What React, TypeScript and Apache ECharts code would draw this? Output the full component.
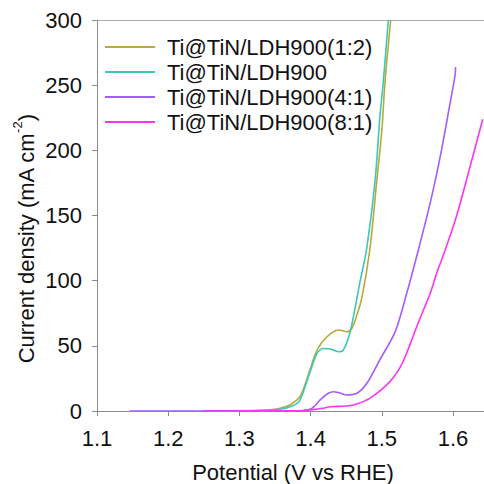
import React, { useEffect, useRef } from "react";
import * as echarts from "echarts";

const seriesNames = [
  "Ti@TiN/LDH900(1:2)",
  "Ti@TiN/LDH900",
  "Ti@TiN/LDH900(4:1)",
  "Ti@TiN/LDH900(8:1)",
];
const seriesColors = ["#b9a83a", "#3cc8b6", "#a25cff", "#ff33f5"];

const s12: [number, number][] = [
  [1.315, 0], [1.34, 0.8], [1.357, 2.1], [1.372, 5], [1.385, 11], [1.392, 20],
  [1.399, 31.5], [1.409, 46.8], [1.423, 57], [1.439, 62.2], [1.451, 60.8],
  [1.458, 63.5], [1.464, 72], [1.4718, 86.5], [1.4834, 124.8], [1.4928, 175.9],
  [1.5, 215], [1.5045, 252.7], [1.5125, 300],
];
const sBase: [number, number][] = [
  [1.247, 0], [1.33, 0.5], [1.357, 1.3], [1.375, 4], [1.385, 8.4], [1.397, 26.3],
  [1.409, 44.3], [1.418, 48], [1.428, 47.5], [1.439, 45.5], [1.446, 46.8],
  [1.455, 59.6], [1.4624, 78.8], [1.4694, 99.2], [1.4788, 124.8], [1.4904, 175.9],
  [1.4975, 227.1], [1.5021, 252.7], [1.5091, 300],
];
const s41: [number, number][] = [
  [1.146, 0], [1.38, 0], [1.399, 1.3], [1.406, 4], [1.413, 8.4], [1.425, 13.6],
  [1.432, 14.8], [1.44, 14], [1.451, 12.3], [1.465, 13.6], [1.479, 21.3],
  [1.497, 39.1], [1.5185, 60.5], [1.535, 90.3], [1.5513, 123.5], [1.57, 164.5],
  [1.5841, 201], [1.5958, 236], [1.603, 258], [1.6035, 264],
];
const s81: [number, number][] = [
  [1.25, 0], [1.39, 0.3], [1.399, 0.8], [1.418, 2.1], [1.427, 3.3], [1.451, 3.8],
  [1.465, 5.4], [1.483, 9.7], [1.502, 17.5], [1.516, 25.5], [1.53, 38],
  [1.549, 64.7], [1.568, 90.3], [1.577, 105.6], [1.589, 123.5], [1.6052, 150],
  [1.6239, 187.4], [1.6417, 223.8],
];
const seriesData = [s12, sBase, s41, s81];

const xTitle = "Potential (V vs RHE)";
const yTitle = "Current density (mA cm";

export default function App() {
  const ref = useRef<HTMLDivElement>(null);
  useEffect(() => {
    if (!ref.current) return;
    const chart = echarts.init(ref.current, undefined, { renderer: "svg" });
    const font = "'Liberation Sans', Arial, sans-serif";
    const axisGray = "#8c8c8c";
    chart.setOption({
      animation: false,
      grid: { left: 97, top: 20, right: 0, bottom: 73, containLabel: false },
      xAxis: [
        {
          type: "value",
          min: 1.1,
          max: 1.6435,
          interval: 0.1,
          axisLine: { show: true, lineStyle: { color: axisGray, width: 1 } },
          axisTick: { show: true, length: 5, lineStyle: { color: axisGray } },
          splitLine: { show: false },
          axisLabel: {
            color: "#111",
            fontSize: 22,
            fontFamily: font,
            margin: 16,
            formatter: (v: number) => v.toFixed(1),
            showMaxLabel: false,
          },
        },
        {
          type: "value",
          position: "top",
          min: 1.1,
          max: 1.6435,
          axisLine: { show: true, lineStyle: { color: "#aaaaaa", width: 1 } },
          axisTick: { show: false },
          axisLabel: { show: false },
          splitLine: { show: false },
        },
      ],
      yAxis: {
        type: "value",
        min: 0,
        max: 300,
        interval: 50,
        axisLine: { show: true, lineStyle: { color: axisGray, width: 1 } },
        axisTick: { show: true, length: 5, lineStyle: { color: axisGray } },
        splitLine: { show: false },
        axisLabel: { color: "#111", fontSize: 22, fontFamily: font, margin: 15 },
      },
      legend: {
        left: 100,
        top: 31,
        orient: "vertical",
        itemWidth: 50,
        itemHeight: 2,
        itemGap: 3,
        icon: "rect",
        data: seriesNames,
        textStyle: {
          fontSize: 22,
          fontFamily: font,
          color: "#111",
          padding: [0, 0, 0, 7],
          lineHeight: 22,
        },
      },
      series: seriesNames.map((name, i) => ({
        name,
        type: "line",
        data: seriesData[i],
        smooth: 0.3,
        showSymbol: false,
        symbol: "none",
        lineStyle: { color: seriesColors[i], width: 1.6 },
        itemStyle: { color: seriesColors[i] },
        clip: true,
        z: 2 + i,
      })),
      graphic: [
        {
          type: "text",
          x: 293,
          y: 472,
          style: {
            text: xTitle,
            fontSize: 22,
            fontFamily: font,
            fill: "#111",
            align: "center",
            verticalAlign: "middle",
          },
        },
        {
          type: "text",
          x: 24,
          y: 239,
          rotation: Math.PI / 2,
          style: {
            text: "{a|" + yTitle + "}{s|-2}{a|)}",
            fontFamily: font,
            fill: "#111",
            align: "center",
            verticalAlign: "middle",
            rich: {
              a: { fontSize: 22, fontFamily: font, fill: "#111", lineHeight: 26, verticalAlign: "bottom" },
              s: { fontSize: 13, fontFamily: font, fill: "#111", lineHeight: 26, verticalAlign: "top", padding: [0, 0, 10, 0] },
            },
          },
        },
      ],
    });
    return () => chart.dispose();
  }, []);
  return (
    <div
      ref={ref}
      style={{ position: "absolute", left: 0, top: 0, width: 484, height: 484 }}
    />
  );
}
